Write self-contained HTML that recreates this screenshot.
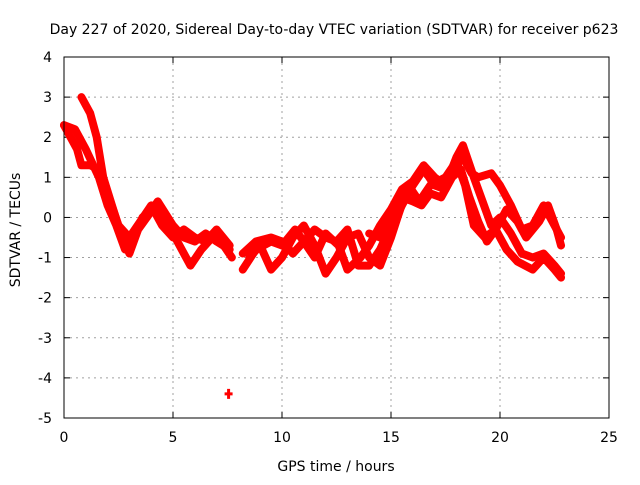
<!DOCTYPE html>
<html><head><meta charset="utf-8"><style>
body{margin:0;background:#fff}
svg text{font-family:"DejaVu Sans","Liberation Sans",sans-serif;font-size:14px;fill:#000}
</style></head><body>
<svg id="chart" width="640" height="480">
<text x="334" y="34" text-anchor="middle">Day 227 of 2020, Sidereal Day-to-day VTEC variation (SDTVAR) for receiver p623</text>
<text x="336" y="471" text-anchor="middle">GPS time / hours</text>
<text transform="translate(20,230) rotate(-90)" text-anchor="middle">SDTVAR / TECUs</text>
<g id="grid"></g>
<g id="ticks"></g>
<g id="series"></g>
<rect x="64" y="57" width="545" height="361" fill="none" stroke="#000" stroke-width="1"/>
</svg>
<script>
const xTicks=[0,5,10,15,20,25];
const yTicks=[4,3,2,1,0,-1,-2,-3,-4,-5];
const track1=[[0.8,3.0],[1.2,2.6],[1.5,2.0],[1.8,1.0],[2.2,0.3],[2.6,-0.4],[3,-0.9],[3.4,-0.3],[3.8,0],[4.3,0.4],[5,-0.2],[5.5,-0.5],[6,-0.6],[6.5,-0.4],[7,-0.6],[7.6,-0.8]];
const track1b=[[8.2,-1.3],[8.8,-0.8],[9.5,-0.6],[10,-0.7],[10.6,-0.3],[11,-0.6],[11.5,-1.0],[12,-0.4],[12.6,-0.7],[13,-1.3],[13.6,-1.0],[14,-0.7],[14.5,-0.2],[15,0.2],[15.5,0.7],[16,0.9],[16.5,1.3],[17,1.0],[17.5,0.8],[18,1.5],[18.3,1.8],[18.8,1.0],[19.2,0.4],[19.6,-0.2],[20,0],[20.5,-0.4],[21,-0.9],[21.5,-1.0],[22,-0.9],[22.5,-1.2],[22.8,-1.4]];
const track2=[[0,2.3],[0.5,2.2],[1,1.7],[1.6,1.0],[2,0.3],[2.4,-0.2],[2.8,-0.8],[3.2,-0.5],[3.6,0],[4.3,0.3],[4.8,-0.2],[5.3,-0.7],[5.8,-1.2],[6.3,-0.8],[6.8,-0.5],[7.2,-0.6],[7.7,-1.0]];
const track2b=[[8.5,-1.0],[9,-0.7],[9.5,-1.3],[10,-1.0],[10.5,-0.5],[11,-0.2],[11.5,-0.7],[12,-1.4],[12.5,-1.0],[13,-0.5],[13.5,-0.4],[14,-1.0],[14.5,-1.2],[15,-0.5],[15.3,0],[15.8,0.8],[16.3,0.4],[16.8,0.8],[17.5,1.0],[18,1.4],[18.4,0.8],[18.8,-0.2],[19.3,-0.5],[19.8,-0.3],[20.3,-0.8],[20.8,-1.1],[21.5,-1.3],[22,-1.0],[22.5,-1.3],[22.8,-1.5]];
const track3=[[0,2.3],[0.6,1.7],[0.8,1.3],[1.2,1.3],[1.6,1.2],[2,0.6],[2.5,-0.2],[3,-0.5],[3.5,-0.1],[4,0.3],[4.5,-0.2],[5,-0.5],[5.5,-0.3],[6,-0.5],[6.5,-0.6],[7,-0.3],[7.6,-0.7]];
const track3b=[[8.2,-0.9],[8.8,-0.6],[9.5,-0.5],[10,-0.6],[10.5,-0.9],[11,-0.6],[11.5,-0.3],[12,-0.5],[12.5,-0.6],[13,-0.3],[13.5,-1.2],[14,-1.2],[14.5,-0.8],[15,-0.2],[15.5,0.3],[16,0.8],[16.5,1.2],[17,0.8],[17.5,0.7],[18,1.3],[18.3,1.5],[18.7,1.1],[19,1.0],[19.6,1.1],[20,0.8],[20.5,0.3],[21,-0.3],[21.5,-0.2],[22,0.3],[22.5,-0.2],[22.8,-0.5]];
const track4=[[14,-0.4],[14.5,-0.5],[15,0],[15.5,0.5],[16,0.4],[16.4,0.3],[16.8,0.6],[17.3,0.5],[17.8,1.0],[18.2,1.2],[18.6,0.5],[19,-0.1],[19.4,-0.6],[19.8,-0.3],[20.3,0.2],[20.8,-0.1],[21.2,-0.5],[21.8,-0.1],[22.2,0.3],[22.6,-0.3],[22.8,-0.7]];
const outliers=[[7.55,-4.4]];
const tracks=[track1,track1b,track2,track2b,track3,track3b,track4];
const X=h=>64+h*21.8, Y=v=>57+(4-v)*40.111;
const NS='http://www.w3.org/2000/svg';
const g=document.getElementById('grid'),t=document.getElementById('ticks'),s=document.getElementById('series');
function mk(tag,attrs,parent){const e=document.createElementNS(NS,tag);for(const k in attrs)e.setAttribute(k,attrs[k]);parent.appendChild(e);return e;}
xTicks.forEach(v=>{const x=X(v);
 if(v>0&&v<25){const l=mk('line',{x1:x,x2:x,y1:57,y2:418,stroke:'#a0a0a0','stroke-dasharray':'2,4'},g);
 
 }
 mk('line',{x1:x,x2:x,y1:418,y2:412,stroke:'#000'},t);mk('line',{x1:x,x2:x,y1:57,y2:63,stroke:'#000'},t);
 const tx=mk('text',{x:x,y:442,'text-anchor':'middle'},t);tx.textContent=v;
 
 });
yTicks.forEach(v=>{const y=Y(v);
 if(v<4&&v>-5){const l=mk('line',{x1:64,x2:609,y1:y,y2:y,stroke:'#a0a0a0','stroke-dasharray':'2,4'},g);
 
 }
 mk('line',{x1:64,x2:70,y1:y,y2:y,stroke:'#000'},t);mk('line',{x1:609,x2:603,y1:y,y2:y,stroke:'#000'},t);
 const tx=mk('text',{x:52,y:y+5,'text-anchor':'end'},t);tx.textContent=v;
 
 });
tracks.forEach(tr=>{const p=mk('polyline',{points:tr.map(d=>X(d[0])+','+Y(d[1])).join(' '),fill:'none',stroke:'#ff0000','stroke-width':8,'stroke-linejoin':'round','stroke-linecap':'round'},s);
 
 });
outliers.forEach(d=>{const p=mk('path',{d:`M${X(d[0])-4},${Y(d[1])}h8M${X(d[0])},${Y(d[1])-5}v10`,stroke:'#ff0000','stroke-width':3},s);
 
 });
</script>
</body></html>
